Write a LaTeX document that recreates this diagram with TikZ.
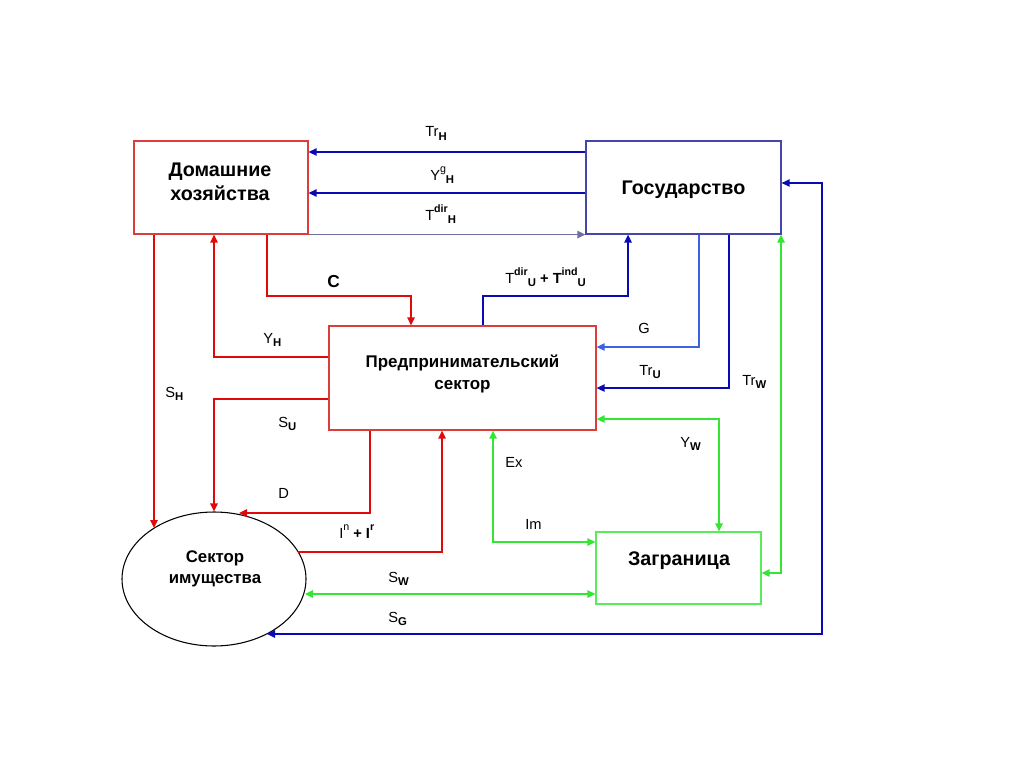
\documentclass[tikz,border=0pt]{standalone}
\usepackage{fontspec}
\setmainfont{Liberation Sans}
\usetikzlibrary{arrows.meta,shapes.geometric}
\definecolor{boxred}{RGB}{220,60,60}
\definecolor{arrred}{RGB}{225,10,10}
\definecolor{dblue}{RGB}{10,10,180}
\definecolor{govblue}{RGB}{70,70,170}
\definecolor{grayblue}{RGB}{110,110,160}
\definecolor{lblue}{RGB}{60,100,225}
\definecolor{grn}{RGB}{50,230,50}
\definecolor{boxgrn}{RGB}{90,235,90}
\newcommand{\sbb}[1]{\raisebox{-0.45ex}{\fontsize{8.5}{9}\selectfont\bfseries #1}}
\newcommand{\spp}[1]{\raisebox{0.95ex}{\fontsize{8}{9}\selectfont\bfseries #1}}
\newcommand{\sppr}[1]{\raisebox{0.95ex}{\fontsize{8}{9}\selectfont #1}}
\tikzset{
 box/.style={draw, line width=0.9pt, inner sep=0pt},
 boxtext/.style={align=center, inner sep=0pt, font=\fontsize{14.8}{18}\selectfont\bfseries},
 tip/.style={-{Triangle[length=6pt,width=5.5pt]}},
 dtip/.style={{Triangle[length=6pt,width=5.5pt]}-{Triangle[length=6pt,width=5.5pt]}},
 flow/.style={line width=1.25pt},
 lbl/.style={anchor=base west, inner sep=0pt, font=\fontsize{11}{13}\selectfont},
}
\begin{document}
\begin{tikzpicture}[x=0.75pt, y=-0.75pt]
\useasboundingbox (0,0) rectangle (1024,767);
% boxes
\node[box, draw=boxred, minimum width=130.5pt, minimum height=69.75pt] (hh) at (221,187.5) {};
\node[boxtext] (hht) at (220,182) {Домашние\\хозяйства};
\node[box, draw=govblue, minimum width=146.25pt, minimum height=69.75pt] (gov) at (683.5,187.5) {};
\node[boxtext] (govt) at (683.5,190) {Государство};
\node[box, draw=boxred, minimum width=200.25pt, minimum height=78pt] (bus) at (462.5,378) {};
\node[boxtext, font=\fontsize{12.7}{16}\selectfont\bfseries] (bust) at (462.5,374) {Предпринимательский\\сектор};
\node[box, draw=boxgrn, minimum width=123.75pt, minimum height=54pt] (abr) at (678.5,568) {};
\node[boxtext] (abrt) at (679,561) {Заграница};
\node[draw=black, line width=0.8pt, ellipse, inner sep=0pt, minimum width=138pt, minimum height=100.5pt] (ell) at (214,579) {};
\node[boxtext, font=\fontsize{12.6}{15.5}\selectfont\bfseries] (ellt) at (215,569) {Сектор\\имущества};
% points on the ellipse
\coordinate (eSH) at (154,528);
\coordinate (eD) at (239,513);
\coordinate (eI) at (298,552);
\coordinate (eSW) at (305,594);
\coordinate (eSG) at (267,634);
% government - households
\draw[flow, tip, dblue] (gov.west |- 0,152) -- (hh.east |- 0,152);
\draw[flow, tip, dblue] (gov.west |- 0,193) -- (hh.east |- 0,193);
\draw[flow, tip, grayblue] (hh.south east) -- (gov.south west);
% households - business
\draw[flow, tip, arrred] (hh.south -| 267,0) |- (411,296) -- (bus.north -| 411,0);
\draw[flow, tip, arrred] (bus.west |- 0,357) -| (hh.south -| 214,0);
% to property sector
\draw[flow, tip, arrred] (hh.south -| 154,0) -- (eSH);
\draw[flow, tip, arrred] (bus.west |- 0,399) -| (ell.north);
\draw[flow, tip, arrred] (bus.south -| 370,0) |- (eD);
\draw[flow, tip, arrred] (eI) -| (bus.south -| 442,0);
% business - government
\draw[flow, tip, dblue] (bus.north -| 483,0) -- (483,296) -| (gov.south -| 628,0);
\draw[flow, tip, lblue] (gov.south -| 699,0) |- (bus.east |- 0,347);
\draw[flow, tip, dblue] (gov.south -| 729,0) |- (bus.east |- 0,388);
% abroad
\draw[flow, dtip, grn] (gov.south -| 781,0) |- (abr.east |- 0,573);
\draw[flow, dtip, grn] (bus.east |- 0,419) -| (abr.north -| 719,0);
\draw[flow, dtip, grn] (bus.south -| 493,0) |- (abr.west |- 0,542);
\draw[flow, dtip, grn] (eSW) -- (abr.west |- 0,594);
\draw[flow, dtip, dblue] (gov.east |- 0,183) -- (822,183) |- (eSG);
% labels
\node[lbl] (lTrH) at (425,137) {Tr\sbb{H}};
\node[lbl] (lYgH) at (430,180) {Y\sppr{g}\sbb{H}};
\node[lbl] (lTdH) at (425,220) {T\spp{dir}\sbb{H}};
\node[lbl, font=\fontsize{13}{15}\selectfont\bfseries] (lC) at (327,287) {C};
\node[lbl] (lYH) at (263,343) {Y\sbb{H}};
\node[lbl] (lSH) at (165,397) {S\sbb{H}};
\node[lbl] (lSU) at (278,427) {S\sbb{U}};
\node[lbl] (lD) at (278,498) {D};
\node[lbl] (lI) at (339,538) {I\sppr{n} \textbf{+ I}\spp{r}};
\node[lbl] (lTU) at (505,283) {T\spp{dir}\sbb{U} \textbf{+ T}\spp{ind}\sbb{U}};
\node[lbl] (lG) at (638,333) {G};
\node[lbl] (lTrU) at (639,375) {Tr\sbb{U}};
\node[lbl] (lTrW) at (742,385) {Tr\sbb{W}};
\node[lbl] (lYW) at (680,447) {Y\sbb{W}};
\node[lbl] (lEx) at (505,467) {Ex};
\node[lbl] (lIm) at (525,529) {Im};
\node[lbl] (lSW) at (388,582) {S\sbb{W}};
\node[lbl] (lSG) at (388,622) {S\sbb{G}};
\end{tikzpicture}
\end{document}
